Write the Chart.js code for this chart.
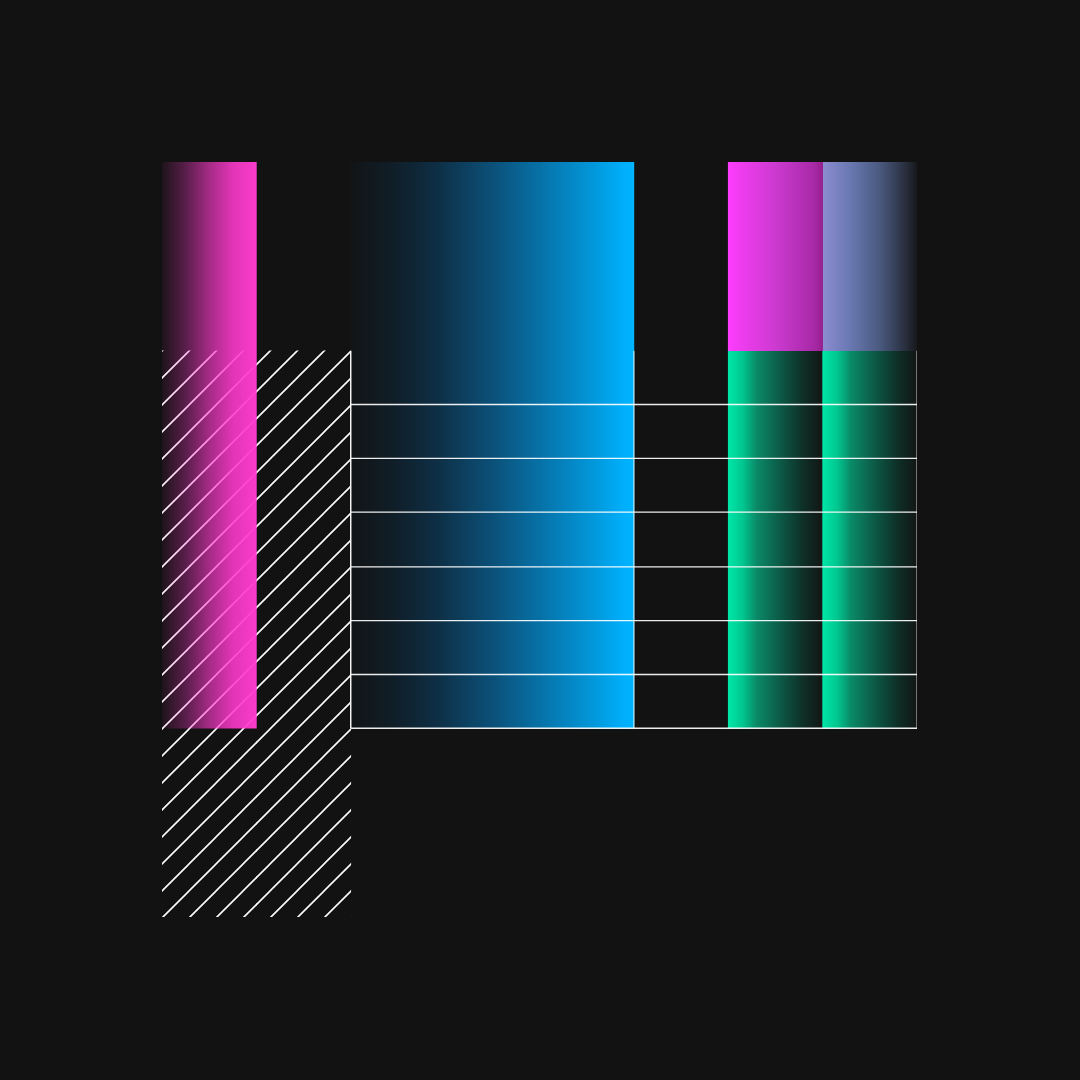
<!DOCTYPE html>
<html>
<head>
<meta charset="utf-8">
<script src="https://cdn.jsdelivr.net/npm/chart.js@4"></script>
<style>
  html, body { margin: 0; padding: 0; background: #121212; }
  #wrap { width: 1080px; height: 1080px; }
</style>
</head>
<body>
<div id="wrap"><canvas id="chart"></canvas></div>
<script>
// columns of the grid, 8 equal slots
const columns = ['1', '2', '3', '4', '5', '6', '7', '8'];

// floating bars: [bottom, top] in grid units, null = empty slot
const hatchRange    = [[0, 6], [0, 6], null, null, null, null, null, null];
const pinkRange     = [[2, 8], null, null, null, null, null, null, null];
const blueRange     = [null, null, [2, 8], [2, 8], [2, 8], null, null, null];
const magentaRange  = [null, null, null, null, null, null, [6, 8], null];
const lavenderRange = [null, null, null, null, null, null, null, [6, 8]];
const greenRange    = [null, null, null, null, null, null, [2, 6], [2, 6]];

// ruled lines
const gridRows = [5.43, 4.86, 4.29, 3.71, 3.14, 2.57, 2];
const gridSpan = [2, 8];
const ruleCols = [2, 5, 8];
const ruleSpan = [2, 6];

function hGrad(chart, x0, x1, stops) {
    const s = chart.scales.x2;
    if (!s || !chart.chartArea) return 'transparent';
    const p0 = s.getPixelForValue(x0);
    const p1 = s.getPixelForValue(x1);
    if (!isFinite(p0) || !isFinite(p1)) return 'transparent';
    const g = chart.ctx.createLinearGradient(p0, 0, p1, 0);
    stops.forEach(([o, c]) => g.addColorStop(o, c));
    return g;
}

function hatchPattern() {
    const size = 27;
    const c = document.createElement('canvas');
    c.width = size;
    c.height = size;
    const g = c.getContext('2d');
    g.strokeStyle = '#ffffff';
    g.lineWidth = 1.6;
    g.beginPath();
    g.moveTo(-2, size + 2); g.lineTo(size + 2, -2);
    g.moveTo(-2, 2); g.lineTo(2, -2);
    g.moveTo(size - 2, size + 2); g.lineTo(size + 2, size - 2);
    g.stroke();
    return g.createPattern(c, 'repeat');
}

const rowLines = gridRows.flatMap(v => [
    { x: gridSpan[0], y: v }, { x: gridSpan[1], y: v }, { x: gridSpan[1], y: null }
]);
const ruleLine = x => [{ x: x, y: ruleSpan[0] }, { x: x, y: ruleSpan[1] }];

const lineBase = {
    type: 'line', xAxisID: 'x2', pointRadius: 0, fill: false,
    tension: 0, spanGaps: false, borderWidth: 1.4
};

const bgPlugin = {
    id: 'bg',
    beforeDraw(chart) {
        const c = chart.ctx;
        c.save();
        c.fillStyle = '#121212';
        c.fillRect(0, 0, chart.width, chart.height);
        c.restore();
    }
};

new Chart(document.getElementById('chart'), {
    type: 'bar',
    data: {
        labels: columns,
        datasets: [
            Object.assign({}, lineBase, { data: rowLines, borderColor: 'rgba(255,255,255,0.92)', order: 0 }),
            Object.assign({}, lineBase, { data: ruleLine(ruleCols[0]), borderColor: '#ffffff', order: 0 }),
            Object.assign({}, lineBase, { data: ruleLine(ruleCols[1]), borderColor: 'rgba(215,245,255,0.75)', order: 0 }),
            Object.assign({}, lineBase, { data: ruleLine(ruleCols[2]), borderColor: '#a0a0a0', order: 0 }),
            {
                data: pinkRange, order: 1,
                backgroundColor: ctx => hGrad(ctx.chart, 0, 1, [
                    [0, 'rgba(255,58,205,0.05)'], [0.25, 'rgba(255,58,205,0.3)'],
                    [0.5, 'rgba(255,58,205,0.62)'], [0.75, 'rgba(255,58,205,0.88)'],
                    [1, 'rgba(255,60,208,0.98)']
                ])
            },
            {
                data: blueRange, order: 2,
                backgroundColor: ctx => hGrad(ctx.chart, 2, 5, [
                    [0, '#121416'], [0.15, '#101e28'], [0.3, '#0e2e44'],
                    [0.5, '#0b5078'], [0.7, '#0678b0'], [0.85, '#0396d8'],
                    [0.97, '#00b0fc'], [1, '#00b4ff']
                ])
            },
            {
                data: magentaRange, order: 2,
                backgroundColor: ctx => hGrad(ctx.chart, 6, 7, [
                    [0, '#ff3cff'], [0.1, '#f23cf2'], [0.5, '#cc3ad0'],
                    [0.9, '#a82aa8'], [1, '#962090']
                ])
            },
            {
                data: lavenderRange, order: 2,
                backgroundColor: ctx => hGrad(ctx.chart, 7, 8, [
                    [0, '#8c8cd2'], [0.3, '#6878b0'], [0.6, '#4a5a80'],
                    [0.87, '#2a3040'], [1, '#16181c']
                ])
            },
            {
                data: greenRange, order: 2,
                backgroundColor: ctx => hGrad(ctx.chart, ctx.dataIndex, ctx.dataIndex + 1, [
                    [0, '#00e6a8'], [0.15, '#00c890'], [0.3, '#0a8a68'],
                    [0.55, '#0c5a46'], [0.8, '#0e2e26'], [1, '#121614']
                ])
            },
            { data: hatchRange, order: 10, backgroundColor: hatchPattern() }
        ]
    },
    options: {
        responsive: true,
        maintainAspectRatio: false,
        animation: false,
        events: [],
        layout: { padding: { left: 162, top: 162, right: 163, bottom: 163 } },
        datasets: {
            bar: { grouped: false, barPercentage: 1, categoryPercentage: 1, borderWidth: 0, borderSkipped: false }
        },
        scales: {
            x: { display: false, offset: true },
            x2: { type: 'linear', display: false, offset: false, min: 0, max: 8 },
            y: { display: false, min: 0, max: 8 }
        },
        plugins: {
            legend: { display: false },
            tooltip: { enabled: false }
        }
    },
    plugins: [bgPlugin]
});
</script>
</body>
</html>
